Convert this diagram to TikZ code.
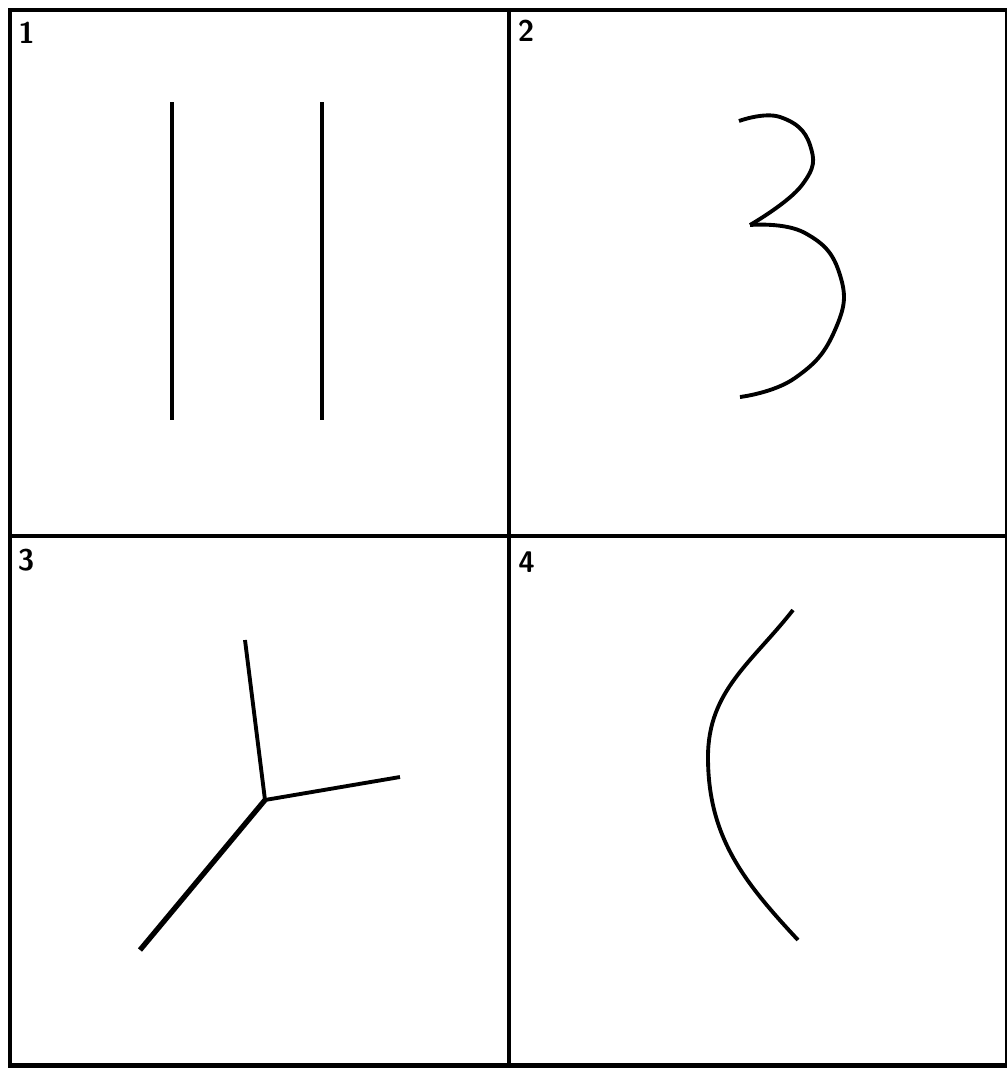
\documentclass[tikz,border=0pt]{standalone}
\usetikzlibrary{calc}

\begin{document}
\begin{tikzpicture}[x=1cm,y=-1cm,line width=1.1pt,
    panelnum/.style={font=\sffamily\bfseries\fontsize{8.5}{8.5}\selectfont,inner sep=0pt},
    frame/.style={line width=1.3pt}]
    \useasboundingbox (0,0) rectangle (10.06,10.70);
    \draw[frame] (0.10,0.10) rectangle (10.07,10.655);
    \draw[frame] (5.09,0.10) -- (5.09,10.655);
    \draw[frame] (0.10,5.36) -- (10.07,5.36);
    \node[panelnum] (n1) at (0.265,0.33) {1};
    \node[panelnum] (n2) at (5.26,0.31) {2};
    \node[panelnum] (n3) at (0.26,5.60) {3};
    \node[panelnum] (n4) at (5.265,5.62) {4};
    \draw (1.72,1.02) -- (1.72,4.20);
    \draw (3.22,1.02) -- (3.22,4.20);
    \coordinate (cusp) at (7.50,2.25);
    \draw plot[smooth,tension=0.8] coordinates {(7.39,1.21) (7.80,1.17) (8.10,1.45) (8.02,1.85) (cusp)};
    \draw plot[smooth,tension=0.8] coordinates {(cusp) (8.05,2.33) (8.40,2.75) (8.35,3.30) (7.95,3.78) (7.40,3.97)};
    \coordinate (J) at (2.65,8.00);
    \draw (J) -- (2.45,6.40);
    \draw (J) -- (4.00,7.77);
    \draw[line width=1.5pt] (J) -- (1.40,9.50);
    \coordinate (L) at (7.08,7.57);
    \draw (7.93,6.10) to[out=-128,in=90] (L) to[out=-90,in=133] (7.98,9.40);
\end{tikzpicture}
\end{document}
